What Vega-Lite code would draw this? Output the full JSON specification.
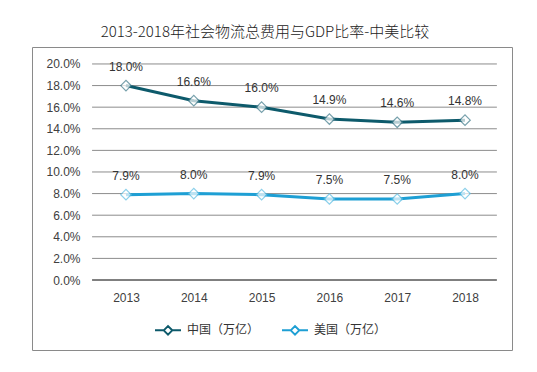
{
  "$schema": "https://vega.github.io/schema/vega-lite/v6.json",
  "width": 480,
  "height": 303,
  "autosize": {"type": "none"},
  "padding": {"left": 32, "top": 47, "right": 25, "bottom": 22},
  "background": "#ffffff",
  "title": {
    "text": "2013-2018年社会物流总费用与GDP比率-中美比较",
    "font": "Noto Sans CJK SC",
    "fontSize": 15,
    "fontWeight": 300,
    "color": "#222222",
    "anchor": "middle",
    "offset": 7,
    "dx": -7
  },
  "config": {
    "view": {"stroke": "#8a8a8a", "strokeWidth": 1},
    "axis": {"labelFont": "Liberation Sans", "labelFontSize": 12, "labelColor": "#404040", "labelOverlap": false},
    "legend": {"labelFont": "Noto Sans CJK SC", "labelFontSize": 12, "labelColor": "#333333"}
  },
  "datasets": {
    "series": [
      {"year": 2013, "country": "中国（万亿）", "value": 0.180},
      {"year": 2014, "country": "中国（万亿）", "value": 0.166},
      {"year": 2015, "country": "中国（万亿）", "value": 0.160},
      {"year": 2016, "country": "中国（万亿）", "value": 0.149},
      {"year": 2017, "country": "中国（万亿）", "value": 0.146},
      {"year": 2018, "country": "中国（万亿）", "value": 0.148},
      {"year": 2013, "country": "美国（万亿）", "value": 0.079},
      {"year": 2014, "country": "美国（万亿）", "value": 0.080},
      {"year": 2015, "country": "美国（万亿）", "value": 0.079},
      {"year": 2016, "country": "美国（万亿）", "value": 0.075},
      {"year": 2017, "country": "美国（万亿）", "value": 0.075},
      {"year": 2018, "country": "美国（万亿）", "value": 0.080}
    ],
    "grid": [
      {"g": 0}, {"g": 0.02}, {"g": 0.04}, {"g": 0.06}, {"g": 0.08}, {"g": 0.10},
      {"g": 0.12}, {"g": 0.14}, {"g": 0.16}, {"g": 0.18}, {"g": 0.20}
    ]
  },
  "layer": [
    {
      "data": {"name": "grid"},
      "mark": {"type": "rule", "strokeWidth": 1},
      "encoding": {
        "y": {
          "field": "g", "type": "quantitative",
          "scale": {"domain": [-0.0648, 0.2157], "nice": false, "zero": false},
          "axis": {"values": [0, 0.02, 0.04, 0.06, 0.08, 0.10, 0.12, 0.14, 0.16, 0.18, 0.20], "tickCount": 30, "format": ".1%", "title": null, "grid": false, "ticks": false, "domain": false, "offset": -56, "labelPadding": 8, "labelOverlap": false, "labelBound": false}
        },
        "x": {"datum": 2012.5, "type": "quantitative", "scale": {"domain": [2011.614, 2018.693], "nice": false, "zero": false}},
        "x2": {"datum": 2018.47},
        "color": {
          "condition": {"test": "datum.g === 0", "value": "#000000"},
          "value": "#8c8c8c"
        }
      }
    },
    {
      "data": {"name": "series"},
      "mark": {"type": "line", "strokeWidth": 3},
      "encoding": {
        "x": {
          "field": "year", "type": "quantitative",
          "scale": {"domain": [2011.614, 2018.693], "nice": false, "zero": false},
          "axis": {"values": [2013, 2014, 2015, 2016, 2017, 2018], "tickCount": 30, "format": "d", "title": null, "grid": false, "ticks": false, "domain": false, "offset": -60, "labelPadding": 2, "labelOverlap": false}
        },
        "y": {"field": "value", "type": "quantitative"},
        "color": {
          "field": "country", "type": "nominal",
          "scale": {"domain": ["中国（万亿）", "美国（万亿）"], "range": ["#0d5a6b", "#1e9fd4"]},
          "legend": {
            "title": null,
            "orient": "none",
            "direction": "horizontal",
            "legendX": 122,
            "legendY": 269,
            "symbolType": "M-1,0H-0.33M0.33,0H1M-0.33,0L0,-0.33L0.33,0L0,0.33Z",
            "symbolSize": 676,
            "symbolStrokeWidth": 2,
            "symbolFillColor": "#ffffff",
            "labelOffset": 5,
            "columnPadding": 18,
            "encode": {"symbols": {"update": {"fill": {"value": "#ffffff"}, "fillOpacity": {"value": 1}}}}
          }
        }
      }
    },
    {
      "data": {"name": "series"},
      "mark": {"type": "point", "shape": "diamond", "size": 110, "filled": true, "fill": "#ffffff", "strokeWidth": 1.2},
      "encoding": {
        "x": {"field": "year", "type": "quantitative"},
        "y": {"field": "value", "type": "quantitative"},
        "stroke": {
          "field": "country", "type": "nominal",
          "scale": {"domain": ["中国（万亿）", "美国（万亿）"], "range": ["#3f7a8a", "#5cbde2"]},
          "legend": null
        }
      }
    },
    {
      "data": {"name": "series"},
      "mark": {"type": "text", "dy": -19, "font": "Liberation Sans", "fontSize": 12, "color": "#333333"},
      "encoding": {
        "x": {"field": "year", "type": "quantitative"},
        "y": {"field": "value", "type": "quantitative"},
        "text": {"field": "value", "type": "quantitative", "format": ".1%"}
      }
    }
  ],
  "resolve": {"scale": {"stroke": "independent"}}
}
